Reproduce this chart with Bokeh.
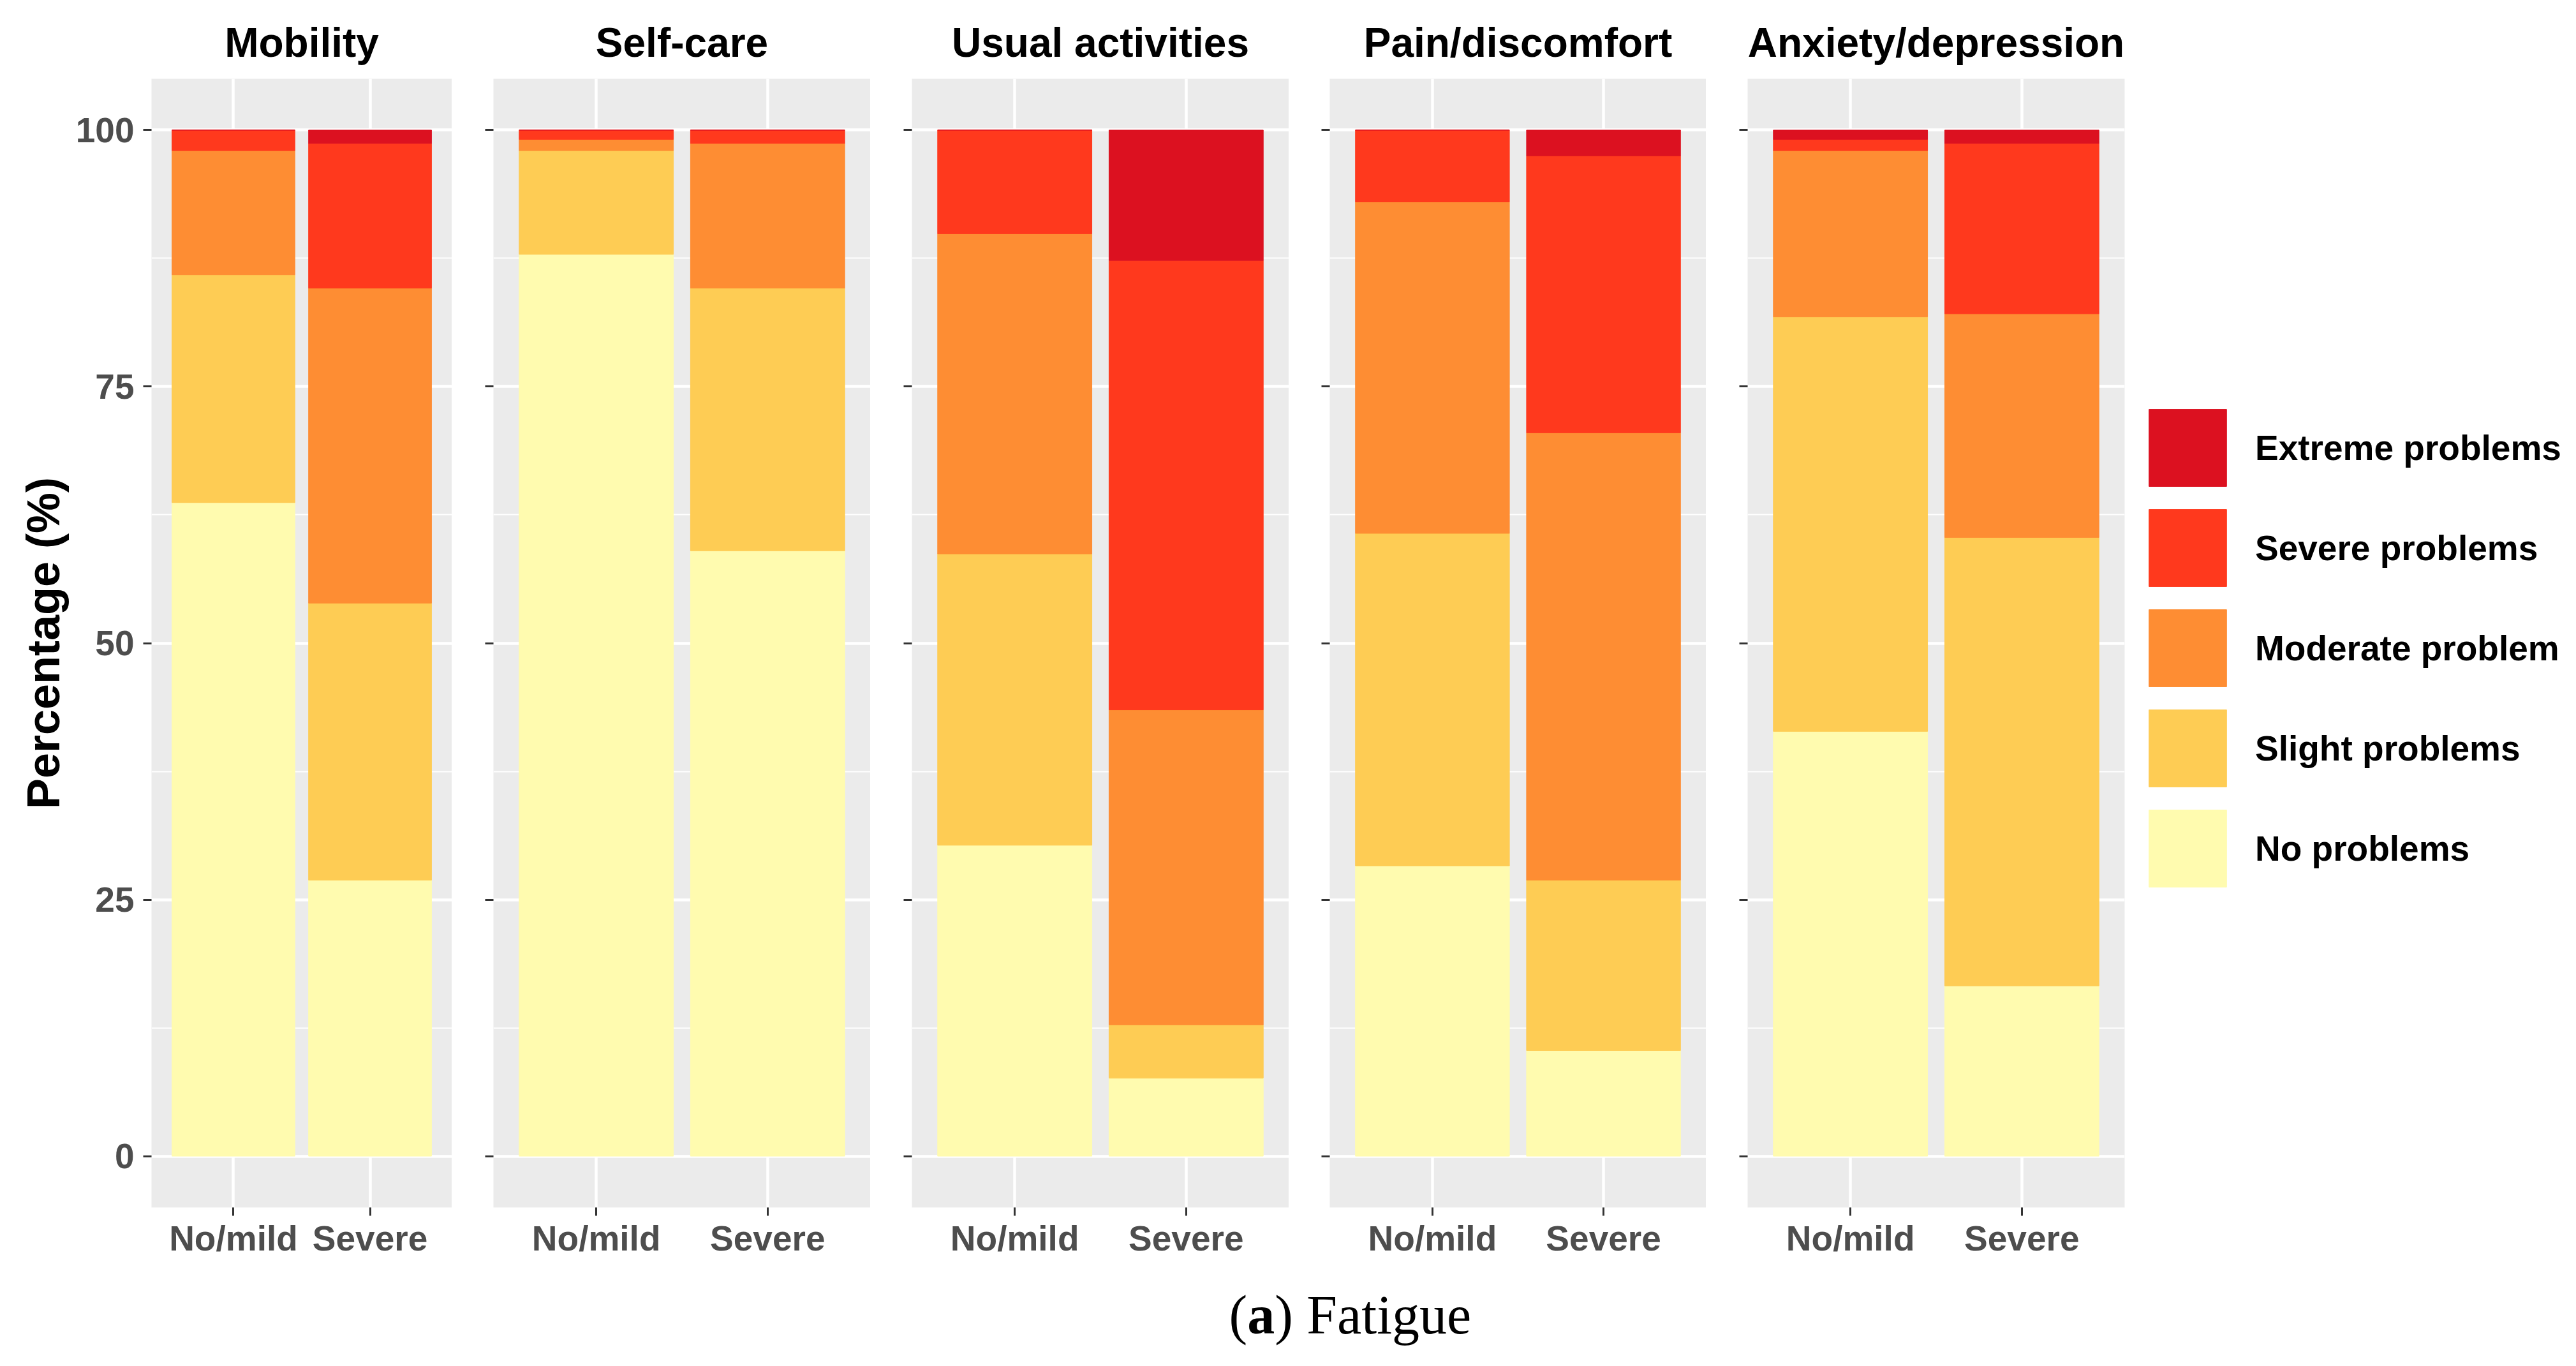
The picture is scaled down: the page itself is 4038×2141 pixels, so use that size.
from bokeh.plotting import figure
from bokeh.models import FactorRange, Range1d, FixedTicker, Legend, LegendItem, ColumnDataSource
from bokeh.layouts import row, column
from bokeh.embed import file_html
from bokeh.resources import INLINE
from bokeh.core.properties import value

# ---------------- data ----------------
dimensions = ["Mobility", "Self-care", "Usual activities", "Pain/discomfort", "Anxiety/depression"]
groups = ["No/mild", "Severe"]
levels = ["No problems", "Slight problems", "Moderate problem", "Severe problems", "Extreme problems"]
level_colors = ["#FFFBAF", "#FECC54", "#FE8D33", "#FF391D", "#DC1120"]
y_ticks = [0, 25, 50, 75, 100]
y_minor_ticks = [12.5, 37.5, 62.5, 87.5]

# percentages per dimension, values for [No/mild, Severe]
no_problems = [[63.7, 26.9], [87.9, 59.0], [30.3, 7.6], [28.3, 10.3], [41.4, 16.6]]
slight_problems = [[22.2, 27.0], [10.1, 25.6], [28.4, 5.2], [32.4, 16.6], [40.4, 43.7]]
moderate_problem = [[12.1, 30.7], [1.1, 14.1], [31.2, 30.7], [32.3, 43.6], [16.2, 21.8]]
severe_problems = [[2.0, 14.1], [0.9, 1.3], [10.1, 43.8], [7.0, 27.0], [1.1, 16.6]]
extreme_problems = [[0.0, 1.3], [0.0, 0.0], [0.0, 12.7], [0.0, 2.5], [0.9, 1.3]]

series = [no_problems, slight_problems, moderate_problem, severe_problems, extreme_problems]

# ---------------- layout ----------------
FONT = "Liberation Sans"
frame_widths = [471, 591, 591, 590, 591]
left_borders = [237, 65, 65, 64, 65]
FRAME_H = 1769
TOP = 123
BOTTOM = 106

figs = []
renderers = None
for i, dim in enumerate(dimensions):
    src = ColumnDataSource(dict(
        grp=groups,
        **{levels[k]: series[k][i] for k in range(len(levels))}
    ))
    p = figure(
        x_range=FactorRange(factors=groups, range_padding=0.1, range_padding_units="percent"),
        y_range=Range1d(-5, 105),
        frame_width=frame_widths[i], frame_height=FRAME_H,
        min_border_left=left_borders[i], min_border_right=0,
        min_border_top=TOP, min_border_bottom=BOTTOM,
        output_backend="svg", toolbar_location=None, title=dim,
    )
    renderers = p.vbar_stack(levels, x="grp", width=0.9, color=level_colors, source=src)

    p.background_fill_color = "#EBEBEB"
    p.border_fill_color = "white"
    p.outline_line_color = None

    p.title.text_font = FONT
    p.title.text_font_size = "64px"
    p.title.text_font_style = "bold"
    p.title.text_color = "black"
    p.title.align = "center"
    p.title.standoff = 41

    # grids
    p.xgrid.grid_line_color = "white"
    p.xgrid.grid_line_width = 4.5
    p.ygrid.ticker = FixedTicker(ticks=y_ticks, minor_ticks=y_minor_ticks)
    p.ygrid.grid_line_color = "white"
    p.ygrid.grid_line_width = 4.5
    p.ygrid.minor_grid_line_color = "white"
    p.ygrid.minor_grid_line_width = 2.2

    # y axis
    ya = p.yaxis[0]
    ya.ticker = FixedTicker(ticks=y_ticks)
    ya.axis_line_color = None
    ya.major_tick_out = 13
    ya.major_tick_in = 0
    ya.major_tick_line_color = "#333333"
    ya.major_tick_line_width = 3
    ya.minor_tick_line_color = None
    if i == 0:
        ya.major_label_text_font = FONT
        ya.major_label_text_font_size = "55px"
        ya.major_label_text_font_style = "bold"
        ya.major_label_text_color = "#4D4D4D"
        ya.major_label_standoff = 14
        ya.axis_label = "Percentage (%)"
        ya.axis_label_text_font = FONT
        ya.axis_label_text_font_size = "72px"
        ya.axis_label_text_font_style = "bold"
        ya.axis_label_text_color = "black"
        ya.axis_label_standoff = 8
    else:
        ya.major_label_text_font_size = "1px"
        ya.major_label_text_color = None
        ya.major_label_standoff = 0

    # x axis
    xa = p.xaxis[0]
    xa.axis_line_color = None
    xa.major_tick_out = 13
    xa.major_tick_in = 0
    xa.major_tick_line_color = "#333333"
    xa.major_tick_line_width = 3
    xa.major_label_text_font = FONT
    xa.major_label_text_font_size = "55px"
    xa.major_label_text_font_style = "bold"
    xa.major_label_text_color = "#4D4D4D"
    xa.major_label_standoff = 4

    figs.append(p)

# ---------------- legend, in the right side panel of the last facet ----------------
# (bokeh insets area swatches by 10% on each side, so the glyph box is 1/0.8 of the visible key)
p5 = figs[-1]
items = [LegendItem(label=levels[k], renderers=[renderers[k]]) for k in reversed(range(len(levels)))]
legend = Legend(items=items, location=(23, 487))
legend.glyph_width = 152
legend.glyph_height = 151
legend.label_height = 151
legend.spacing = 6
legend.padding = 0
legend.margin = 23
legend.label_standoff = 30
legend.label_text_font = FONT
legend.label_text_font_size = "55px"
legend.label_text_font_style = "bold"
legend.label_text_color = "black"
legend.border_line_color = None
legend.background_fill_alpha = 0
p5.add_layout(legend, "right")

# ---------------- caption ----------------
CAP_H = 135
cap = figure(width=4030, height=CAP_H, x_range=Range1d(0, 4030), y_range=Range1d(0, CAP_H),
             output_backend="svg", toolbar_location=None, min_border=0)
cap.axis.visible = False
cap.grid.visible = False
cap.outline_line_color = None
SERIF = "Liberation Serif"
CAP_SIZE = 86
x0 = 1926
ycap = CAP_H - 62
cap.text(x=[x0], y=[ycap], text=["("], text_font=value(SERIF), text_font_size=f"{CAP_SIZE}px",
         text_align="left", text_baseline="middle", text_color="black")
cap.text(x=[x0 + 0.333 * CAP_SIZE], y=[ycap], text=["a"], text_font=value(SERIF), text_font_size=f"{CAP_SIZE}px",
         text_font_style="bold", text_align="left", text_baseline="middle", text_color="black")
cap.text(x=[x0 + 0.833 * CAP_SIZE], y=[ycap], text=[") Fatigue"], text_font=value(SERIF), text_font_size=f"{CAP_SIZE}px",
         text_align="left", text_baseline="middle", text_color="black")

layout = column(row(*figs, spacing=0), cap, spacing=0)
open("out.html", "w").write(file_html(layout, INLINE))
